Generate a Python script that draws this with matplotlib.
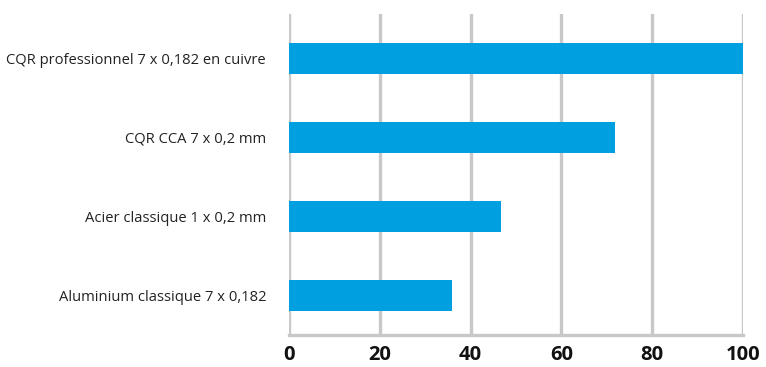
import matplotlib

matplotlib.use("Agg")

import matplotlib.pyplot as plt

categories = [
    "Aluminium classique 7 x 0,182",
    "Acier classique 1 x 0,2 mm",
    "CQR CCA 7 x 0,2 mm",
    "CQR professionnel 7 x 0,182 en cuivre",
]
values = [36, 46.7, 71.7, 100]
xticks = [0, 20, 40, 60, 80, 100]

BAR = "#009fe0"
GRID = "#c8c8c8"

fig = plt.figure(figsize=(7.66, 3.67), dpi=100, facecolor="white")
ax = fig.add_axes([0.3773, 0.0872, 0.5927, 0.8747])

ax.barh(range(len(categories)), values, height=0.39, color=BAR, zorder=3)

ax.set_xlim(0, 100)
ax.set_ylim(-0.5, 3.56)
ax.set_xticks(xticks)
ax.set_xticklabels([str(t) for t in xticks], fontsize=14.5, family="Open Sans",
                   fontweight="bold", color="#111111")
ax.set_yticks(range(len(categories)))
ax.set_yticklabels(categories, fontsize=10.6, family="Open Sans", color="#222222")

ax.xaxis.grid(True, color=GRID, linewidth=2.4, zorder=0)
ax.yaxis.grid(False)
for side in ("top", "right", "left"):
    ax.spines[side].set_visible(False)
ax.spines["bottom"].set_color(GRID)
ax.spines["bottom"].set_linewidth(2.4)
ax.tick_params(axis="both", length=0)
ax.tick_params(axis="x", pad=7)
ax.tick_params(axis="y", pad=16.5)

fig.savefig("out.png", dpi=100, facecolor="white")
plt.close(fig)
